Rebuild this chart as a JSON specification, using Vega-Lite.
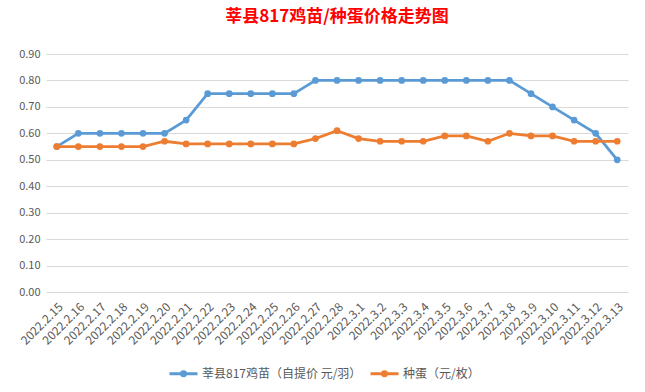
{
  "$schema": "https://vega.github.io/schema/vega-lite/v6.json",
  "autosize": "none",
  "width": 582,
  "height": 238,
  "padding": {"left": 46, "top": 54, "right": 17, "bottom": 100},
  "background": "white",
  "config": {
    "font": "Noto Sans CJK SC",
    "view": {"stroke": null}
  },
  "title": {
    "text": "莘县817鸡苗/种蛋价格走势图",
    "color": "#FF0000",
    "fontSize": 17,
    "fontWeight": "bold",
    "anchor": "middle",
    "offset": 22
  },
  "datasets": {
    "prices": [
      {"date": "2022.2.15", "s": "莘县817鸡苗（自提价 元/羽）", "v": 0.55},
      {"date": "2022.2.16", "s": "莘县817鸡苗（自提价 元/羽）", "v": 0.60},
      {"date": "2022.2.17", "s": "莘县817鸡苗（自提价 元/羽）", "v": 0.60},
      {"date": "2022.2.18", "s": "莘县817鸡苗（自提价 元/羽）", "v": 0.60},
      {"date": "2022.2.19", "s": "莘县817鸡苗（自提价 元/羽）", "v": 0.60},
      {"date": "2022.2.20", "s": "莘县817鸡苗（自提价 元/羽）", "v": 0.60},
      {"date": "2022.2.21", "s": "莘县817鸡苗（自提价 元/羽）", "v": 0.65},
      {"date": "2022.2.22", "s": "莘县817鸡苗（自提价 元/羽）", "v": 0.75},
      {"date": "2022.2.23", "s": "莘县817鸡苗（自提价 元/羽）", "v": 0.75},
      {"date": "2022.2.24", "s": "莘县817鸡苗（自提价 元/羽）", "v": 0.75},
      {"date": "2022.2.25", "s": "莘县817鸡苗（自提价 元/羽）", "v": 0.75},
      {"date": "2022.2.26", "s": "莘县817鸡苗（自提价 元/羽）", "v": 0.75},
      {"date": "2022.2.27", "s": "莘县817鸡苗（自提价 元/羽）", "v": 0.80},
      {"date": "2022.2.28", "s": "莘县817鸡苗（自提价 元/羽）", "v": 0.80},
      {"date": "2022.3.1", "s": "莘县817鸡苗（自提价 元/羽）", "v": 0.80},
      {"date": "2022.3.2", "s": "莘县817鸡苗（自提价 元/羽）", "v": 0.80},
      {"date": "2022.3.3", "s": "莘县817鸡苗（自提价 元/羽）", "v": 0.80},
      {"date": "2022.3.4", "s": "莘县817鸡苗（自提价 元/羽）", "v": 0.80},
      {"date": "2022.3.5", "s": "莘县817鸡苗（自提价 元/羽）", "v": 0.80},
      {"date": "2022.3.6", "s": "莘县817鸡苗（自提价 元/羽）", "v": 0.80},
      {"date": "2022.3.7", "s": "莘县817鸡苗（自提价 元/羽）", "v": 0.80},
      {"date": "2022.3.8", "s": "莘县817鸡苗（自提价 元/羽）", "v": 0.80},
      {"date": "2022.3.9", "s": "莘县817鸡苗（自提价 元/羽）", "v": 0.75},
      {"date": "2022.3.10", "s": "莘县817鸡苗（自提价 元/羽）", "v": 0.70},
      {"date": "2022.3.11", "s": "莘县817鸡苗（自提价 元/羽）", "v": 0.65},
      {"date": "2022.3.12", "s": "莘县817鸡苗（自提价 元/羽）", "v": 0.60},
      {"date": "2022.3.13", "s": "莘县817鸡苗（自提价 元/羽）", "v": 0.50},
      {"date": "2022.2.15", "s": "种蛋（元/枚）", "v": 0.55},
      {"date": "2022.2.16", "s": "种蛋（元/枚）", "v": 0.55},
      {"date": "2022.2.17", "s": "种蛋（元/枚）", "v": 0.55},
      {"date": "2022.2.18", "s": "种蛋（元/枚）", "v": 0.55},
      {"date": "2022.2.19", "s": "种蛋（元/枚）", "v": 0.55},
      {"date": "2022.2.20", "s": "种蛋（元/枚）", "v": 0.57},
      {"date": "2022.2.21", "s": "种蛋（元/枚）", "v": 0.56},
      {"date": "2022.2.22", "s": "种蛋（元/枚）", "v": 0.56},
      {"date": "2022.2.23", "s": "种蛋（元/枚）", "v": 0.56},
      {"date": "2022.2.24", "s": "种蛋（元/枚）", "v": 0.56},
      {"date": "2022.2.25", "s": "种蛋（元/枚）", "v": 0.56},
      {"date": "2022.2.26", "s": "种蛋（元/枚）", "v": 0.56},
      {"date": "2022.2.27", "s": "种蛋（元/枚）", "v": 0.58},
      {"date": "2022.2.28", "s": "种蛋（元/枚）", "v": 0.61},
      {"date": "2022.3.1", "s": "种蛋（元/枚）", "v": 0.58},
      {"date": "2022.3.2", "s": "种蛋（元/枚）", "v": 0.57},
      {"date": "2022.3.3", "s": "种蛋（元/枚）", "v": 0.57},
      {"date": "2022.3.4", "s": "种蛋（元/枚）", "v": 0.57},
      {"date": "2022.3.5", "s": "种蛋（元/枚）", "v": 0.59},
      {"date": "2022.3.6", "s": "种蛋（元/枚）", "v": 0.59},
      {"date": "2022.3.7", "s": "种蛋（元/枚）", "v": 0.57},
      {"date": "2022.3.8", "s": "种蛋（元/枚）", "v": 0.60},
      {"date": "2022.3.9", "s": "种蛋（元/枚）", "v": 0.59},
      {"date": "2022.3.10", "s": "种蛋（元/枚）", "v": 0.59},
      {"date": "2022.3.11", "s": "种蛋（元/枚）", "v": 0.57},
      {"date": "2022.3.12", "s": "种蛋（元/枚）", "v": 0.57},
      {"date": "2022.3.13", "s": "种蛋（元/枚）", "v": 0.57}
    ]
  },
  "data": {"name": "prices"},
  "mark": {"type": "line", "strokeWidth": 2.75, "point": {"size": 45, "filled": true}},
  "encoding": {
    "x": {
      "field": "date",
      "type": "nominal",
      "sort": null,
      "scale": {"type": "point", "padding": 0.5},
      "axis": {
        "title": null,
        "labelAngle": -45,
        "labelFontSize": 12,
        "labelColor": "#595959",
        "ticks": false,
        "domain": false,
        "grid": false,
        "labelPadding": 9
      }
    },
    "y": {
      "field": "v",
      "type": "quantitative",
      "scale": {"domain": [0, 0.9]},
      "axis": {
        "title": null,
        "format": ".2f",
        "values": [0, 0.1, 0.2, 0.3, 0.4, 0.5, 0.6, 0.7, 0.8, 0.9],
        "labelFontSize": 11,
        "labelColor": "#595959",
        "ticks": false,
        "domain": false,
        "gridColor": "#D9D9D9",
        "labelPadding": 6
      }
    },
    "color": {
      "field": "s",
      "type": "nominal",
      "sort": null,
      "scale": {"range": ["#5B9BD5", "#ED7D31"]},
      "legend": {
        "title": null,
        "orient": "none",
        "direction": "horizontal",
        "legendX": 122,
        "legendY": 304,
        "labelFontSize": 12,
        "labelColor": "#595959",
        "symbolType": "M-1,0L1,0M0.14,0A0.14,0.14,0,1,1,-0.14,0A0.14,0.14,0,1,1,0.14,0Z",
        "symbolStrokeWidth": 3,
        "symbolSize": 784,
        "labelOffset": 3,
        "columnPadding": 2
      }
    }
  }
}
